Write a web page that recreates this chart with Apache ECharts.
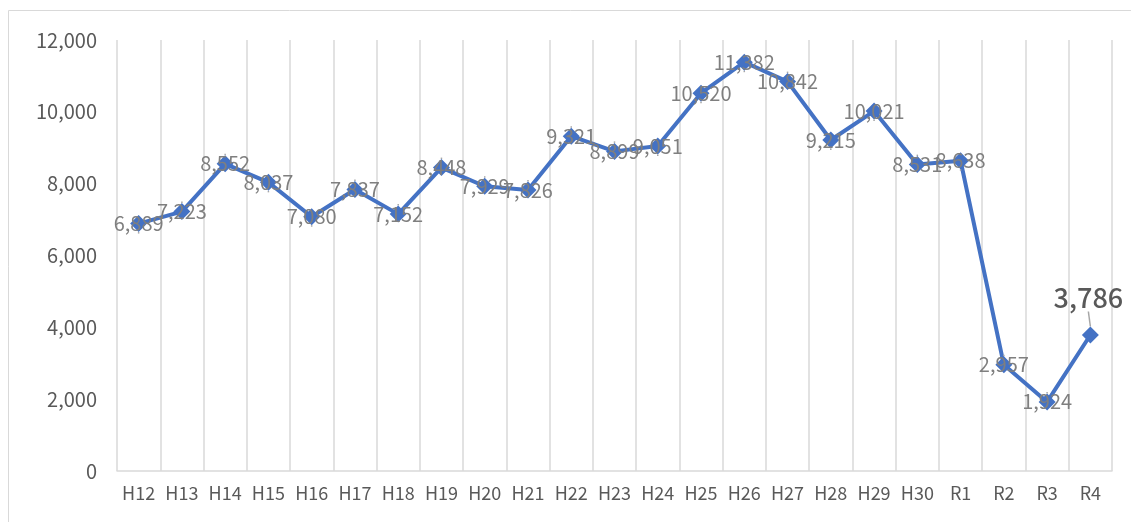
<!DOCTYPE html>
<html>
<head>
<meta charset="utf-8">
<script src="https://cdn.jsdelivr.net/npm/echarts@6/dist/echarts.min.js"></script>
<style>
  html, body { margin: 0; padding: 0; background: #fff; }
  #chart { width: 1131px; height: 522px; }
</style>
</head>
<body>
<div id="chart"></div>
<script>
const categories = ['H12', 'H13', 'H14', 'H15', 'H16', 'H17', 'H18', 'H19', 'H20', 'H21', 'H22', 'H23',
  'H24', 'H25', 'H26', 'H27', 'H28', 'H29', 'H30', 'R1', 'R2', 'R3', 'R4']
const values = [6889, 7223, 8552, 8037, 7080, 7837, 7152, 8448, 7929, 7826, 9321, 8899,
  9051, 10520, 11382, 10842, 9215, 10021, 8531, 8638, 2957, 1924, 3786]
const yTicks = { min: 0, max: 12000, interval: 2000 }

const FONT = '"Noto Sans CJK JP", "Noto Sans", sans-serif'
const fmt = v => v.toLocaleString('en-US')

// last point gets the big label above it, like the original
const lastIdx = values.length - 1
const seriesData = values.map((v, i) => {
  if (i !== lastIdx) return v
  return {
    value: v,
    label: {
      fontSize: 27,
      color: '#595959',
      fontWeight: 500
    }
  }
})

const chart = echarts.init(document.getElementById('chart'))
chart.setOption({
  animation: false,
  graphic: [{
    type: 'rect',
    shape: { x: 8.5, y: 10.5, width: 1140, height: 540 },
    style: { fill: 'none', stroke: '#d9d9d9', lineWidth: 1 },
    silent: true
  }],
  grid: { left: 117, right: 19, top: 40, bottom: 51 },
  xAxis: {
    type: 'category',
    data: categories,
    boundaryGap: true,
    axisLine: { lineStyle: { color: '#d9d9d9', width: 1.5 } },
    axisTick: { show: false },
    splitLine: { show: true, lineStyle: { color: '#d9d9d9', width: 1.5 } },
    axisLabel: { color: '#595959', fontSize: 18, fontFamily: FONT, margin: 13, interval: 0 }
  },
  yAxis: {
    type: 'value',
    min: yTicks.min,
    max: yTicks.max,
    interval: yTicks.interval,
    axisLine: { show: false },
    axisTick: { show: false },
    splitLine: { show: false },
    axisLabel: { color: '#595959', fontSize: 20, fontFamily: FONT, margin: 20, formatter: fmt }
  },
  series: [{
    type: 'line',
    data: seriesData,
    symbol: 'diamond',
    symbolSize: 17,
    lineStyle: { color: '#4472c4', width: 4 },
    itemStyle: { color: '#4472c4' },
    label: {
      show: true,
      position: 'inside',
      color: '#7f7f7f',
      fontSize: 20,
      fontFamily: FONT,
      formatter: p => fmt(p.value)
    },
    labelLine: { show: true, lineStyle: { color: '#a6a6a6', width: 1.5 } },
    labelLayout: p => (p.dataIndex === lastIdx ? { dx: -2, dy: -37 } : {})
  }]
})
</script>
</body>
</html>
